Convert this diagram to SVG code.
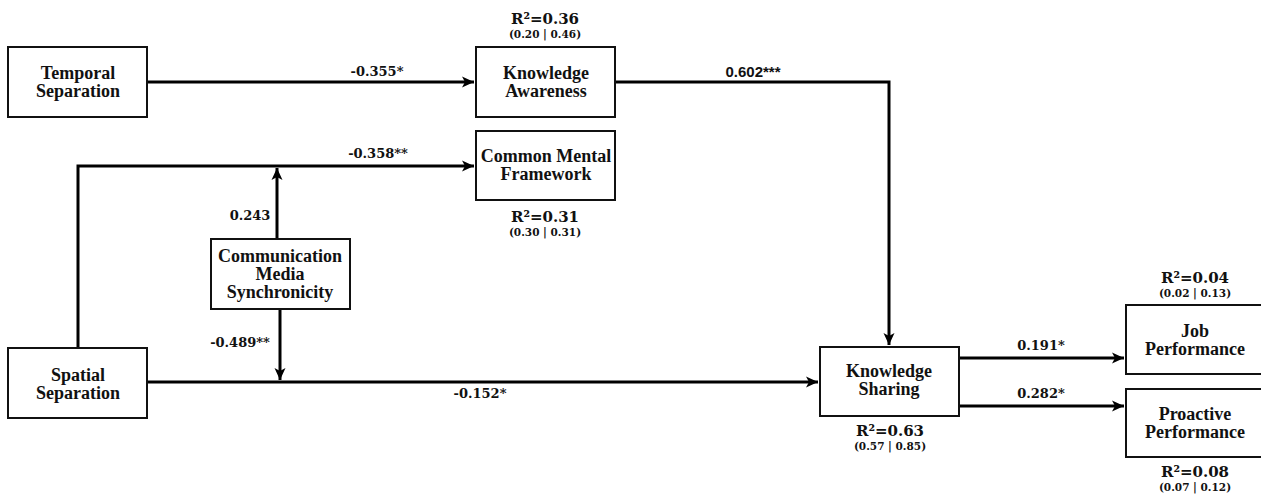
<svg xmlns="http://www.w3.org/2000/svg" width="1261" height="498" viewBox="0 0 1261 498">
<defs>
<marker id="ah" markerUnits="userSpaceOnUse" markerWidth="13" markerHeight="12" refX="12" refY="6" orient="auto">
<path d="M0,0.5 L12,6 L0,11.5 L3,6 z" fill="#000"/>
</marker>
<style>
.box{fill:#fff;stroke:#111;stroke-width:2}
.node{font-family:"Liberation Serif","Times New Roman",serif;font-weight:bold;font-size:18px;fill:#111;text-anchor:middle}
.edge{fill:none;stroke:#000;stroke-width:3}
.lbl{font-family:"DejaVu Serif",Georgia,serif;font-weight:bold;font-size:13px;fill:#111;text-anchor:middle}
.lbls{font-family:"Liberation Sans",Arial,sans-serif;font-weight:bold;font-size:15px;fill:#111;text-anchor:middle}
.r2{font-family:"DejaVu Serif",Georgia,serif;font-weight:bold;font-size:15px;fill:#111;text-anchor:middle}
.ci{font-family:"DejaVu Serif",Georgia,serif;font-weight:bold;font-size:10.5px;fill:#111;text-anchor:middle}
</style>
</defs>
<rect width="1261" height="498" fill="#fff"/>
<g id="connectors">
<path class="edge" d="M147,82 H474" marker-end="url(#ah)"/>
<path class="edge" d="M615,82 H889 V345" marker-end="url(#ah)"/>
<path class="edge" d="M78,348 V166 H474" marker-end="url(#ah)"/>
<path class="edge" d="M277,239 V168" marker-end="url(#ah)"/>
<path class="edge" d="M280,309 V380" marker-end="url(#ah)"/>
<path class="edge" d="M147,382 H818" marker-end="url(#ah)"/>
<path class="edge" d="M959,358 H1124" marker-end="url(#ah)"/>
<path class="edge" d="M959,406 H1124" marker-end="url(#ah)"/>
<text class="lbl" x="377" y="76">-0.355*</text>
<text class="lbls" x="753" y="77">0.602***</text>
<text class="lbl" x="378" y="158">-0.358**</text>
<text class="lbl" x="250" y="220">0.243</text>
<text class="lbl" x="240" y="347">-0.489**</text>
<text class="lbl" x="480" y="398">-0.152*</text>
<text class="lbl" x="1041" y="350">0.191*</text>
<text class="lbl" x="1041" y="398">0.282*</text>
</g>
<g id="temporal-separation">
<rect class="box" x="8" y="47" width="139" height="70"/>
<text class="node" x="78" y="79">Temporal</text>
<text class="node" x="78" y="97">Separation</text>
</g>
<g id="knowledge-awareness">
<rect class="box" x="476" y="47" width="139" height="70"/>
<text class="node" x="546" y="79">Knowledge</text>
<text class="node" x="546" y="97">Awareness</text>
<text class="r2" x="545" y="24">R²=0.36</text>
<text class="ci" x="545" y="38">(0.20 | 0.46)</text>
</g>
<g id="common-mental-framework">
<rect class="box" x="476" y="131" width="139" height="69"/>
<text class="node" x="546" y="162">Common Mental</text>
<text class="node" x="546" y="180">Framework</text>
<text class="r2" x="545" y="222">R²=0.31</text>
<text class="ci" x="545" y="236">(0.30 | 0.31)</text>
</g>
<g id="communication-media-synchronicity">
<rect class="box" x="211" y="239" width="139" height="70"/>
<text class="node" x="280" y="262">Communication</text>
<text class="node" x="280" y="280">Media</text>
<text class="node" x="280" y="298">Synchronicity</text>
</g>
<g id="spatial-separation">
<rect class="box" x="8" y="348" width="139" height="70"/>
<text class="node" x="78" y="381">Spatial</text>
<text class="node" x="78" y="399">Separation</text>
</g>
<g id="knowledge-sharing">
<rect class="box" x="820" y="347" width="139" height="69"/>
<text class="node" x="889" y="377">Knowledge</text>
<text class="node" x="889" y="395">Sharing</text>
<text class="r2" x="890" y="436">R²=0.63</text>
<text class="ci" x="890" y="450">(0.57 | 0.85)</text>
</g>
<g id="job-performance">
<rect class="box" x="1126" y="305" width="139" height="69"/>
<text class="node" x="1195" y="337">Job</text>
<text class="node" x="1195" y="355">Performance</text>
<text class="r2" x="1195" y="283">R²=0.04</text>
<text class="ci" x="1195" y="297">(0.02 | 0.13)</text>
</g>
<g id="proactive-performance">
<rect class="box" x="1126" y="389" width="139" height="68"/>
<text class="node" x="1195" y="420">Proactive</text>
<text class="node" x="1195" y="438">Performance</text>
<text class="r2" x="1195" y="477">R²=0.08</text>
<text class="ci" x="1195" y="491">(0.07 | 0.12)</text>
</g>
</svg>
